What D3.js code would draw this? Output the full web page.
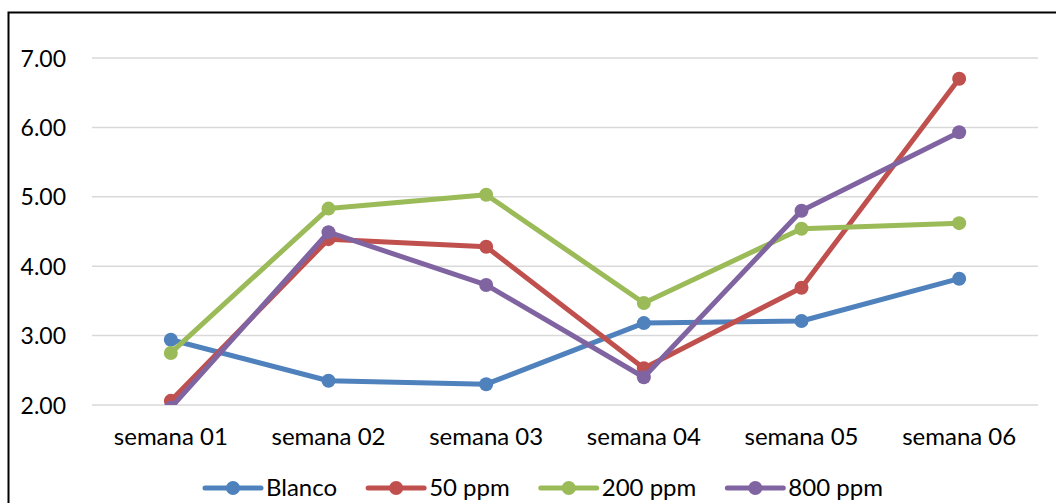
<!DOCTYPE html>
<html>
<head>
<meta charset="utf-8">
<script src="https://cdn.jsdelivr.net/npm/d3@7"></script>
<style>
  html, body { margin: 0; padding: 0; background: #fff; }
  svg { display: block; }
  text { font-family: Lato, "Open Sans", sans-serif; fill: #000; }
</style>
</head>
<body>
<svg id="chart" width="1056" height="503"></svg>
<script>
// Weekly readings per treatment
const categories = ["semana 01", "semana 02", "semana 03", "semana 04", "semana 05", "semana 06"];
const seriesNames = ["Blanco", "50 ppm", "200 ppm", "800 ppm"];
const blanco  = [2.94, 2.35, 2.30, 3.18, 3.21, 3.82];
const ppm50   = [2.06, 4.39, 4.28, 2.53, 3.69, 6.70];
const ppm200  = [2.75, 4.83, 5.03, 3.47, 4.54, 4.62];
const ppm800  = [1.96, 4.49, 3.73, 2.40, 4.80, 5.93];
const yTicks  = [2, 3, 4, 5, 6, 7];
const colors  = ["#4F81BD", "#C0504D", "#9BBB59", "#8064A2"];

const series = [blanco, ppm50, ppm200, ppm800].map((values, i) => ({
  name: seriesNames[i], color: colors[i], values
}));

const svg = d3.select("#chart");
const plot = { left: 92, right: 1038, top: 58, bottom: 405 };

// Outer frame (left and top edges fall inside the window)
svg.append("rect")
  .attr("x", 8.5).attr("y", 12.5)
  .attr("width", 1100).attr("height", 600)
  .attr("fill", "none").attr("stroke", "#000").attr("stroke-width", 2);

const x = d3.scaleBand().domain(categories).range([plot.left, plot.right]);
const y = d3.scaleLinear().domain([2, 7]).range([plot.bottom, plot.top]);

// Horizontal gridlines
svg.append("g").selectAll("line").data(yTicks).join("line")
  .attr("x1", plot.left).attr("x2", plot.right)
  .attr("y1", d => y(d)).attr("y2", d => y(d))
  .attr("stroke", "#d9d9d9").attr("stroke-width", 1.5);

// Y axis labels
const yAxis = d3.axisLeft(y).tickValues(yTicks).tickFormat(d3.format(".2f")).tickSize(0).tickPadding(0);
const yG = svg.append("g").attr("transform", `translate(66,0)`).call(yAxis);
yG.select(".domain").remove();
yG.selectAll("text").attr("font-size", 23).attr("font-family", "Lato, sans-serif").attr("fill", "#000").attr("dy", "0.35em");

// X axis labels
const xAxis = d3.axisBottom(x).tickSize(0).tickPadding(0);
const xG = svg.append("g").attr("transform", `translate(0,${plot.bottom + 23})`).call(xAxis);
xG.select(".domain").remove();
xG.selectAll("text").attr("font-size", 24).attr("font-family", "Lato, sans-serif").attr("fill", "#000").attr("dy", "0.71em");

// Clip marks to the plot area
svg.append("clipPath").attr("id", "plotClip")
  .append("rect").attr("x", plot.left - 20).attr("y", plot.top - 20)
  .attr("width", plot.right - plot.left + 40).attr("height", plot.bottom - plot.top + 20);

const line = d3.line()
  .x((d, i) => x(categories[i]) + x.bandwidth() / 2)
  .y(d => y(d));

const marks = svg.append("g").attr("clip-path", "url(#plotClip)");
series.forEach(s => {
  const g = marks.append("g");
  g.append("path").datum(s.values)
    .attr("d", line).attr("fill", "none")
    .attr("stroke", s.color).attr("stroke-width", 5)
    .attr("stroke-linejoin", "round").attr("stroke-linecap", "round");
  g.selectAll("circle").data(s.values).join("circle")
    .attr("cx", (d, i) => x(categories[i]) + x.bandwidth() / 2)
    .attr("cy", d => y(d))
    .attr("r", 7).attr("fill", s.color);
});

// Legend
const legend = svg.append("g").attr("transform", "translate(205,488)");
let lx = 0;
series.forEach(s => {
  const item = legend.append("g").attr("transform", `translate(${lx},0)`);
  item.append("line").attr("x1", 0).attr("x2", 56).attr("y1", 0).attr("y2", 0)
    .attr("stroke", s.color).attr("stroke-width", 5).attr("stroke-linecap", "round");
  item.append("circle").attr("cx", 28).attr("cy", 0).attr("r", 7).attr("fill", s.color);
  const t = item.append("text").attr("x", 61).attr("y", 0).attr("dy", "0.35em")
    .attr("font-size", 24).text(s.name);
  lx += 61 + t.node().getComputedTextLength() + 31;
});
</script>
</body>
</html>
